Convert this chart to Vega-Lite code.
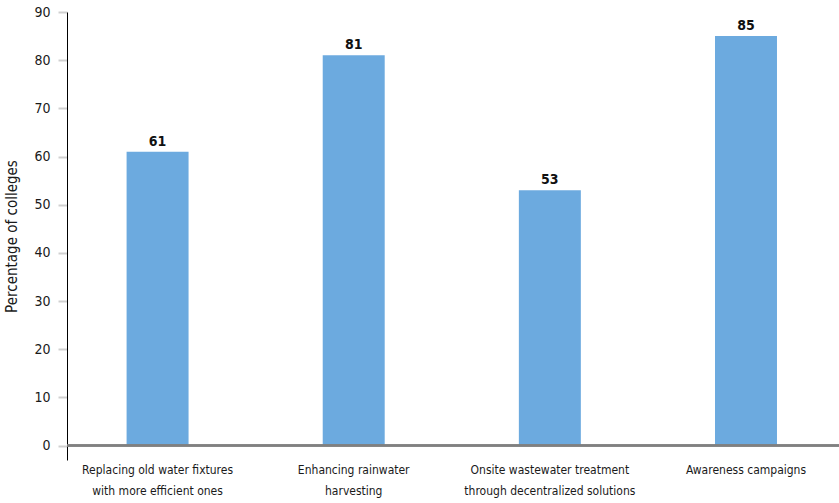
{
  "$schema": "https://vega.github.io/schema/vega-lite/v6.json",
  "width": 772,
  "height": 448,
  "autosize": "none",
  "padding": {"left": 67, "top": 12, "right": 0, "bottom": 43},
  "background": "white",
  "config": {
    "view": {"stroke": null},
    "font": "DejaVu Sans Condensed"
  },
  "data": {
    "values": [
      {"measure": "Replacing old water fixtures|with more efficient ones", "pct": 61},
      {"measure": "Enhancing rainwater|harvesting", "pct": 81},
      {"measure": "Onsite wastewater treatment|through decentralized solutions", "pct": 53},
      {"measure": "Awareness campaigns", "pct": 85}
    ]
  },
  "encoding": {
    "x": {
      "field": "measure",
      "type": "nominal",
      "sort": null,
      "scale": {"paddingInner": 0.684, "paddingOuter": 0.31, "align": 0.49},
      "axis": {
        "title": null,
        "domain": false,
        "ticks": false,
        "labelAngle": 0,
        "labelPadding": 4,
        "labelFont": "DejaVu Sans Condensed",
        "labelFontSize": 12,
        "labelColor": "#1a1a1a",
        "labelLineHeight": 21,
        "labelExpr": "split(datum.value, '|')"
      }
    }
  },
  "layer": [
    {
      "mark": {"type": "bar", "color": "#6CAADF"},
      "encoding": {
        "y": {
          "field": "pct",
          "type": "quantitative",
          "scale": {"domain": [-3, 90], "nice": false, "zero": false},
          "axis": {
            "title": "Percentage of colleges",
            "titleFont": "DejaVu Sans Condensed",
            "titleFontSize": 15,
            "titleFontWeight": "normal",
            "titleColor": "#1a1a1a",
            "titlePadding": 14,
            "values": [0, 10, 20, 30, 40, 50, 60, 70, 80, 90],
            "grid": false,
            "domainColor": "#000000",
            "domainWidth": 1,
            "tickColor": "#d0d0d0",
            "tickWidth": 2,
            "tickSize": 9,
            "labelPadding": 8,
            "labelFont": "DejaVu Sans Condensed",
            "labelFontSize": 14,
            "labelColor": "#1a1a1a"
          }
        },
        "y2": {"datum": 0}
      }
    },
    {
      "mark": {"type": "rule", "color": "#808080", "strokeWidth": 2},
      "encoding": {
        "y": {"datum": 0, "type": "quantitative"},
        "x": {"value": 0},
        "x2": {"value": 772}
      }
    },
    {
      "mark": {"type": "text", "dy": -10, "fontWeight": "bold", "fontSize": 14, "font": "DejaVu Sans Condensed", "color": "#111111"},
      "encoding": {
        "y": {"field": "pct", "type": "quantitative"},
        "text": {"field": "pct", "type": "quantitative"}
      }
    }
  ]
}
